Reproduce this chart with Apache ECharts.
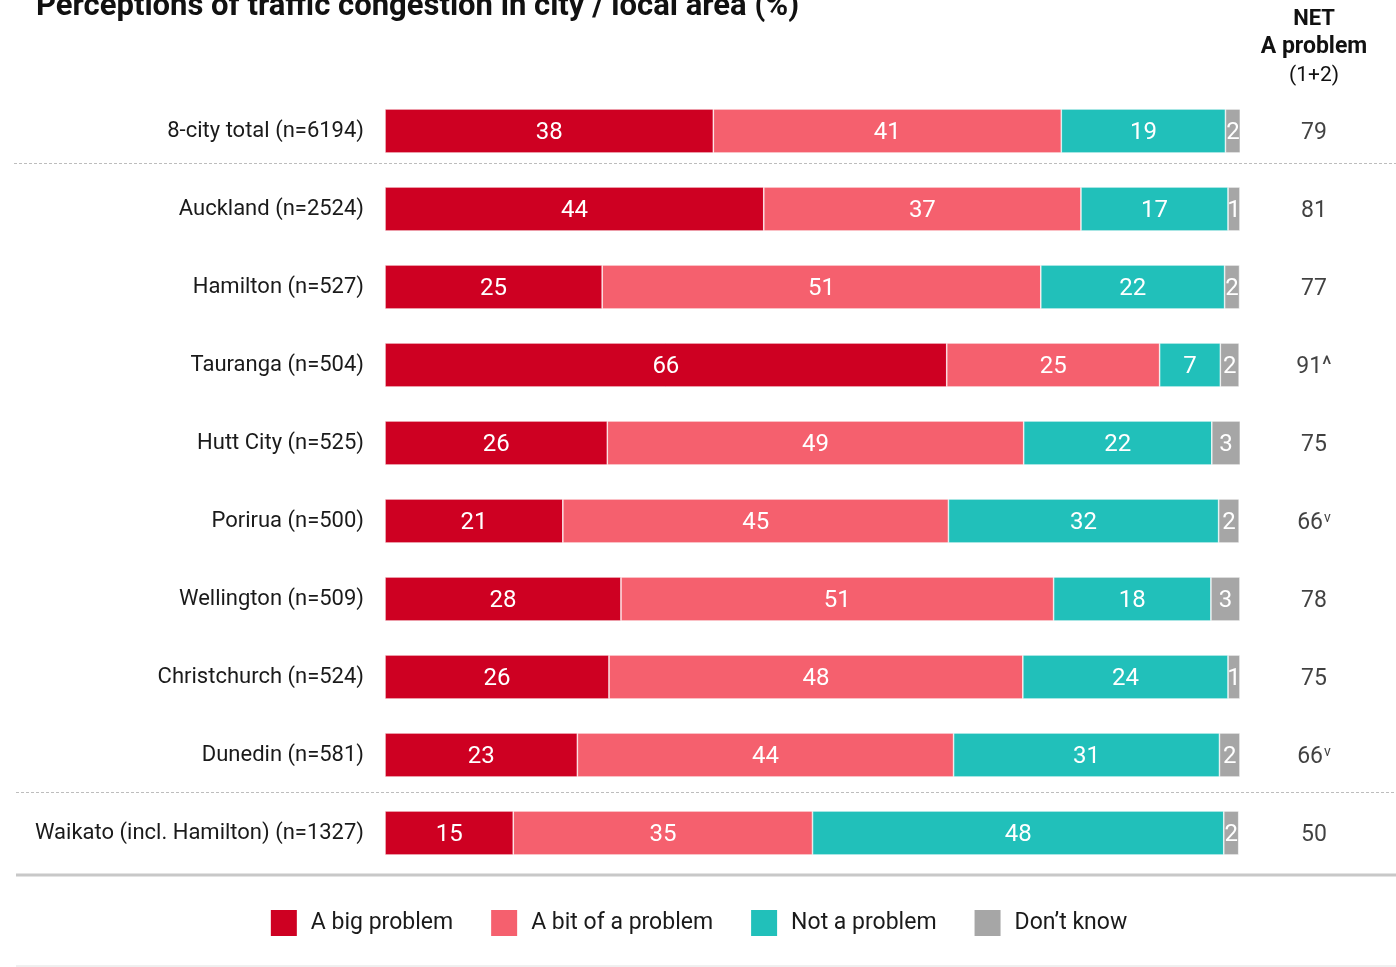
<!DOCTYPE html>
<html>
<head>
<meta charset="utf-8">
<script src="https://cdn.jsdelivr.net/npm/echarts@6/dist/echarts.min.js"></script>
<style>
html,body{margin:0;padding:0;background:#fff;}
#c{width:1396px;height:967px;}
</style>
</head>
<body>
<div id="c"></div>
<script>
const categories = ['8-city total (n=6194)','Auckland (n=2524)','Hamilton (n=527)','Tauranga (n=504)','Hutt City (n=525)','Porirua (n=500)','Wellington (n=509)','Christchurch (n=524)','Dunedin (n=581)','Waikato (incl. Hamilton) (n=1327)'];
const bigProblem   = [38.4, 44.3, 25.4, 65.7, 26.0, 20.8, 27.6, 26.2, 22.5, 15.0];
const bitProblem   = [40.7, 37.1, 51.3, 24.9, 48.7, 45.1, 50.6, 48.4, 44.0, 35.0];
const notProblem   = [19.2, 17.2, 21.5, 7.1, 22.0, 31.6, 18.4, 24.0, 31.1, 48.1];
const dontKnow     = [1.75, 1.4, 1.75, 2.2, 3.4, 2.4, 3.4, 1.4, 2.4, 1.75];
const netProblem   = [79, 81, 77, 91, 75, 66, 78, 75, 66, 50];
const netMarks     = ['', '', '', '^', '', 'v', '', '', 'v', ''];
const seriesNames  = ['A big problem', 'A bit of a problem', 'Not a problem', 'Don\u2019t know'];
const colors       = ['#CE0022', '#F5606E', '#21C0BA', '#A6A6A6'];

const FONT = 'Roboto';
const chart = echarts.init(document.getElementById('c'), null, {renderer:'canvas'});

function barSeries(name, data, color){
  return {
    name: name, type: 'bar', stack: 'total', data: data, barWidth: 44,
    xAxisIndex: 0, yAxisIndex: 0,
    itemStyle: {color: color, borderColor: '#fff', borderWidth: 0.6},
    label: {show: true, position: 'inside', color: '#fff', fontFamily: FONT, fontSize: 24,
      offset: [0, 2],
      formatter: p => String(Math.round(p.value))},
    emphasis: {disabled: true}
  };
}

chart.setOption({
  animation: false,
  title: [{
    text: 'Perceptions of traffic congestion in city / local area (%)',
    left: 31, top: -13,
    textStyle: {fontFamily: FONT, fontSize: 31, fontWeight: 'bold', color: '#111'}
  }],
  grid: [
    {left: 385, width: 855, top: 92, height: 780},
    {left: 1290, width: 48, top: 92, height: 780}
  ],
  xAxis: [
    {type: 'value', min: 0, max: 100, show: false, gridIndex: 0},
    {type: 'value', min: 0, max: 1, show: false, gridIndex: 1}
  ],
  yAxis: [
    {type: 'category', data: categories, inverse: true, gridIndex: 0,
     axisLine: {show: false}, axisTick: {show: false}, splitLine: {show: false},
     axisLabel: {margin: 21, fontFamily: FONT, fontSize: 22, color: '#1a1a1a', padding: [6, 0, 0, 0]}},
    {type: 'category', data: categories, inverse: true, gridIndex: 1, show: false}
  ],
  legend: {
    data: seriesNames, left: 'center', top: 903, itemWidth: 28, itemHeight: 28, itemGap: 36,
    icon: 'rect', selectedMode: false,
    textStyle: {fontFamily: FONT, fontSize: 23, color: '#1a1a1a', padding: [0, 0, 0, 8]}
  },
  series: [
    barSeries(seriesNames[0], bigProblem, colors[0]),
    barSeries(seriesNames[1], bitProblem, colors[1]),
    barSeries(seriesNames[2], notProblem, colors[2]),
    barSeries(seriesNames[3], dontKnow, colors[3]),
    {
      type: 'scatter', xAxisIndex: 1, yAxisIndex: 1, symbolSize: 0,
      data: netProblem.map((v, i) => [0.5, i]),
      label: {show: true, position: 'inside', fontFamily: FONT, fontSize: 23, color: '#111',
        offset: [0, 2],
        formatter: p => {
          const m = netMarks[p.dataIndex];
          const n = '{n|' + netProblem[p.dataIndex] + '}';
          if (m === '^') return n + '{c|^}';
          if (m === 'v') return n + '{s|v}';
          return n;
        },
        rich: {
          n: {fontFamily: FONT, fontSize: 23, color: '#111'},
          c: {fontFamily: FONT, fontSize: 23, color: '#111'},
          s: {fontFamily: FONT, fontSize: 14, color: '#111', verticalAlign: 'top', padding: [0, 0, 10, 1]}
        }},
      emphasis: {disabled: true}, silent: true
    }
  ],
  graphic: [
    {type: 'text', style: {text: 'NET', x: 1314, y: 8, textAlign: 'center', fontFamily: FONT, fontSize: 22, fontWeight: 'bold', fill: '#111'}},
    {type: 'text', style: {text: 'A problem', x: 1314, y: 36, textAlign: 'center', fontFamily: FONT, fontSize: 23, fontWeight: 'bold', fill: '#111'}},
    {type: 'text', style: {text: '(1+2)', x: 1314, y: 65, textAlign: 'center', fontFamily: FONT, fontSize: 21, fill: '#111'}},
    {type: 'line', shape: {x1: 14, y1: 163.5, x2: 1396, y2: 163.5}, style: {stroke: '#bdbdbd', lineWidth: 1, lineDash: [3, 2]}},
    {type: 'line', shape: {x1: 16, y1: 792.5, x2: 1396, y2: 792.5}, style: {stroke: '#bdbdbd', lineWidth: 1, lineDash: [3, 2]}},
    {type: 'line', shape: {x1: 16, y1: 875, x2: 1396, y2: 875}, style: {stroke: '#c8c8c8', lineWidth: 3}},
    {type: 'line', shape: {x1: 16, y1: 966, x2: 1396, y2: 966}, style: {stroke: '#e0e0e0', lineWidth: 1}}
  ]
});
</script>
</body>
</html>
